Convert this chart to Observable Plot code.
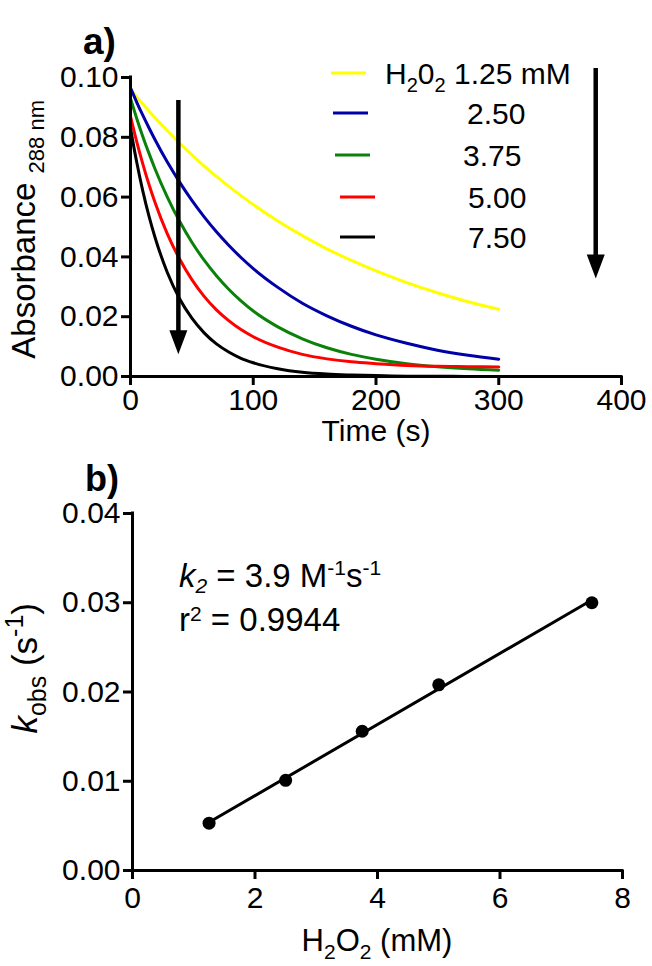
<!DOCTYPE html>
<html><head><meta charset="utf-8">
<script src="https://cdn.jsdelivr.net/npm/d3@7"></script>
<script src="https://cdn.jsdelivr.net/npm/@observablehq/plot@0.6"></script>
<style>
html,body{margin:0;padding:0;background:#fff;}
#fig{width:652px;height:966px;position:relative;background:#fff;}
svg{display:block;overflow:visible;}
</style></head><body><div id="fig"></div>
<script>
// ---------- data ----------
const times = [0,5,10,15,20,30,40,50,60,70,80,90,100,120,140,160,180,200,225,250,275,300];
const abs125 = [0.0960,0.0935,0.0911,0.0888,0.0865,0.0822,0.0780,0.0741,0.0704,0.0669,0.0636,0.0605,0.0575,0.0520,0.0471,0.0427,0.0388,0.0353,0.0314,0.0280,0.0250,0.0225];
const abs250 = [0.0965,0.0918,0.0874,0.0832,0.0792,0.0717,0.0650,0.0589,0.0534,0.0484,0.0439,0.0398,0.0361,0.0298,0.0245,0.0203,0.0168,0.0139,0.0111,0.0088,0.0071,0.0058];
const abs375 = [0.0930,0.0864,0.0803,0.0747,0.0694,0.0600,0.0519,0.0449,0.0389,0.0337,0.0292,0.0253,0.0219,0.0166,0.0126,0.0096,0.0074,0.0058,0.0043,0.0033,0.0026,0.0021];
const abs500 = [0.0870,0.0786,0.0711,0.0643,0.0582,0.0477,0.0393,0.0324,0.0268,0.0223,0.0187,0.0157,0.0133,0.0098,0.0074,0.0059,0.0049,0.0043,0.0037,0.0034,0.0033,0.0032];
const abs750 = [0.0830,0.0718,0.0621,0.0537,0.0465,0.0348,0.0260,0.0195,0.0146,0.0109,0.0082,0.0061,0.0046,0.0026,0.0014,0.0008,0.0005,0.0003,0.0001,0.0001,0.0000,0.0000];
const seriesLabels = ["1.25","2.50","3.75","5.00","7.50"];
const seriesValues = [abs125, abs250, abs375, abs500, abs750];
const seriesColors = ["#ffff00","#0000a8","#0a820a","#ff0000","#000000"];

const h2o2 = [1.25, 2.5, 3.75, 5.0, 7.5];
const kobs = [0.0053, 0.0101, 0.0156, 0.0208, 0.0300];

const ticksAx = [0,100,200,300,400];
const ticksAy = [0,0.02,0.04,0.06,0.08,0.10];
const ticksBx = [0,2,4,6,8];
const ticksBy = [0,0.01,0.02,0.03,0.04];

// annotation arrows (time, top, tip)
const arrowT = [39, 379];
const arrowTop = [0.0923, 0.103];
const arrowTip = [0.0074, 0.0328];

// ---------- helpers ----------
const FONT = "'Liberation Sans', Arial, Helvetica, sans-serif";
const fmt2 = d3.format(".2f");
const headDown = {draw(ctx){ ctx.moveTo(-9,-24); ctx.lineTo(9,-24); ctx.lineTo(0,0); ctx.closePath(); }};

function rich(svg, x, y, parts, opts = {}) {
  const t = d3.select(svg).append("text")
    .attr("x", x).attr("y", y)
    .attr("text-anchor", opts.anchor || "start")
    .attr("font-family", FONT).attr("fill", "black")
    .attr("font-weight", opts.bold ? "bold" : null)
    .style("white-space", "pre");
  if (opts.rotate) t.attr("transform", `rotate(-90 ${x} ${y})`);
  let prev = 0;
  for (const p of parts) {
    const s = p.shift || 0;
    t.append("tspan").attr("dy", s - prev).attr("font-size", p.size || 30)
      .attr("font-style", p.italic ? "italic" : null).text(p.t);
    prev = s;
  }
  return t;
}

const style = {fontFamily: FONT, fontSize: "30px", color: "black", background: "transparent"};

// ---------- panel a ----------
const rowsA = seriesLabels.flatMap((s, i) => times.map((t, j) => ({t, a: seriesValues[i][j], s})));
const arrows = arrowT.map((t, i) => ({t, top: arrowTop[i], tip: arrowTip[i]}));

const plotA = Plot.plot({
  width: 652, height: 455,
  marginTop: 77, marginBottom: 79, marginLeft: 130, marginRight: 31,
  style,
  x: {domain: [0, 400], label: null},
  y: {domain: [0, 0.10], label: null},
  color: {domain: seriesLabels, range: seriesColors},
  marks: [
    Plot.line(rowsA, {x: "t", y: "a", stroke: "s", z: "s", strokeWidth: 3, curve: "monotone-x"}),
    Plot.axisY({ticks: ticksAy, tickFormat: fmt2, tickSize: 9, tickPadding: 3, strokeWidth: 3, label: null, fill: "black"}),
    Plot.axisX({ticks: ticksAx, tickSize: 9, tickPadding: 3, strokeWidth: 3, label: null, fill: "black"}),
    Plot.ruleX([0], {stroke: "black", strokeWidth: 3, strokeLinecap: "square"}),
    Plot.ruleY([0], {stroke: "black", strokeWidth: 3, strokeLinecap: "square"}),
    Plot.ruleX(arrows, {x: "t", y1: "top", y2: "tip", stroke: "black", strokeWidth: 4.5, insetBottom: 14}),
    Plot.dot(arrows, {x: "t", y: "tip", symbol: headDown, fill: "black", stroke: "none"})
  ]
});

// ---------- panel b ----------
const rowsB = h2o2.map((c, i) => ({c, k: kobs[i]}));
const plotB = Plot.plot({
  width: 652, height: 511,
  marginTop: 58, marginBottom: 96, marginLeft: 132, marginRight: 30,
  style,
  x: {domain: [0, 8], label: null},
  y: {domain: [0, 0.04], label: null},
  marks: [
    Plot.axisY({ticks: ticksBy, tickFormat: fmt2, tickSize: 9, tickPadding: 3, strokeWidth: 3, label: null, fill: "black"}),
    Plot.axisX({ticks: ticksBx, tickSize: 9, tickPadding: 7, strokeWidth: 3, label: null, fill: "black"}),
    Plot.ruleX([0], {stroke: "black", strokeWidth: 3, strokeLinecap: "square"}),
    Plot.ruleY([0], {stroke: "black", strokeWidth: 3, strokeLinecap: "square"}),
    Plot.linearRegressionY(rowsB, {x: "c", y: "k", ci: 0, stroke: "black", strokeWidth: 3}),
    Plot.dot(rowsB, {x: "c", y: "k", r: 6.5, fill: "black", stroke: "none"})
  ]
});

const fig = document.getElementById("fig");
fig.append(plotA);
fig.append(plotB);

// ---------- texts panel a ----------
rich(plotA, 83, 54, [{t: "a)", size: 37}], {bold: true});
rich(plotA, 376, 441, [{t: "Time (s)", size: 30}], {anchor: "middle"});
rich(plotA, 35, 100, [{t: "Absorbance ", size: 33}, {t: "288 nm", size: 22, shift: 9}], {anchor: "end", rotate: true});

// legend
const legendLineX = [[331,366],[333,368],[335,370],[340,375],[340,375]];
const legendY = [73,113,155,197,237];
const legendTextX = [385,467,463,468,468];
seriesLabels.forEach((lab, i) => {
  d3.select(plotA).append("line")
    .attr("x1", legendLineX[i][0]).attr("x2", legendLineX[i][1])
    .attr("y1", legendY[i]).attr("y2", legendY[i])
    .attr("stroke", seriesColors[i]).attr("stroke-width", 3);
  const parts = i === 0
    ? [{t: "H"}, {t: "2", size: 20, shift: 8}, {t: "0"}, {t: "2", size: 20, shift: 8}, {t: " " + lab + " mM"}]
    : [{t: lab}];
  rich(plotA, legendTextX[i], legendY[i] + 11, parts);
});

// ---------- texts panel b ----------
rich(plotB, 85, 36, [{t: "b)", size: 36}], {bold: true});
rich(plotB, 377, 496, [{t: "H", size: 31}, {t: "2", size: 21, shift: 8}, {t: "O", size: 31}, {t: "2", size: 21, shift: 8}, {t: " (mM)", size: 31}], {anchor: "middle"});
rich(plotB, 37, 148, [{t: "k", italic: true, size: 35}, {t: "obs", size: 25, shift: 9}, {t: " (s", size: 35}, {t: "-1", size: 25, shift: -14}, {t: ")", size: 35}], {anchor: "end", rotate: true});
rich(plotB, 179, 132, [{t: "k", italic: true, size: 33}, {t: "2", size: 21, shift: 6, italic: true}, {t: " = 3.9 M", size: 33}, {t: "-1", size: 21, shift: -12}, {t: "s", size: 33}, {t: "-1", size: 21, shift: -12}]);
rich(plotB, 179, 176, [{t: "r", size: 33}, {t: "2", size: 21, shift: -10}, {t: " = 0.9944", size: 33}]);
</script>
</body></html>
